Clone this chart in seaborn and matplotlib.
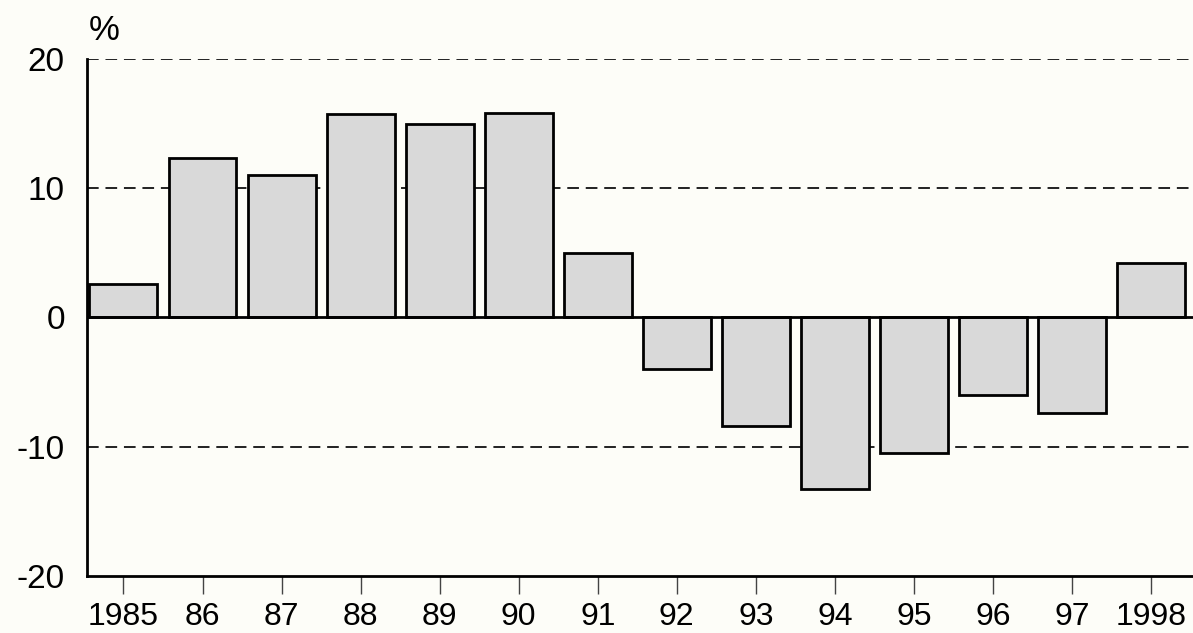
import pandas as pd
import matplotlib.pyplot as plt
import seaborn as sns

# ------------------ Data ------------------
years = ["1985", "86", "87", "88", "89", "90", "91",
         "92", "93", "94", "95", "96", "97", "1998"]
change_pct = [2.6, 12.3, 11.0, 15.7, 15.0, 15.8, 5.0,
              -4.0, -8.4, -13.3, -10.5, -6.0, -7.4, 4.2]
y_ticks = [-20, -10, 0, 10, 20]

df = pd.DataFrame({"Year": years, "Change": change_pct})

# ------------------ Plot ------------------
sns.set_style("white")
plt.rcParams["font.family"] = ["Liberation Sans", "DejaVu Sans"]
plt.rcParams["text.color"] = "black"
plt.rcParams["xtick.color"] = "black"
plt.rcParams["ytick.color"] = "black"

bg = "#fdfdf8"
fig = plt.figure(figsize=(11.93, 6.33), dpi=100, facecolor=bg)
ax = fig.add_axes([0.073, 0.09, 0.927, 0.817])
ax.set_facecolor(bg)

sns.barplot(data=df, x="Year", y="Change", color="#d9d9d9", saturation=1,
            width=0.86, edgecolor="black", linewidth=2, zorder=3, ax=ax)

# dashed gridlines and zero line
for v in [-10, 10, 20]:
    ax.axhline(v, color="#222222", linestyle=(0, (6, 3.5)), linewidth=1.4, zorder=1)
ax.axhline(0, color="black", linewidth=2, zorder=4)

ax.set_ylim(-20, 20)
ax.set_xlim(-0.46, len(years) - 0.47)
ax.set_yticks(y_ticks)
ax.set_yticklabels([str(t) for t in y_ticks])

for s in ["top", "right"]:
    ax.spines[s].set_visible(False)
for s in ["left", "bottom"]:
    ax.spines[s].set_color("black")
    ax.spines[s].set_linewidth(2)

ax.tick_params(axis="x", bottom=True, direction="out", length=13, width=1,
               color="#444444", labelcolor="black", labelsize=23, pad=6)
ax.tick_params(axis="y", length=0, labelcolor="black", labelsize=24, pad=16)
ax.set_xlabel("")
ax.set_ylabel("")

fig.text(0.074, 0.926, "%", fontsize=25, color="black", ha="left", va="bottom")

plt.savefig("out.png", dpi=100, facecolor=bg)
plt.close()
